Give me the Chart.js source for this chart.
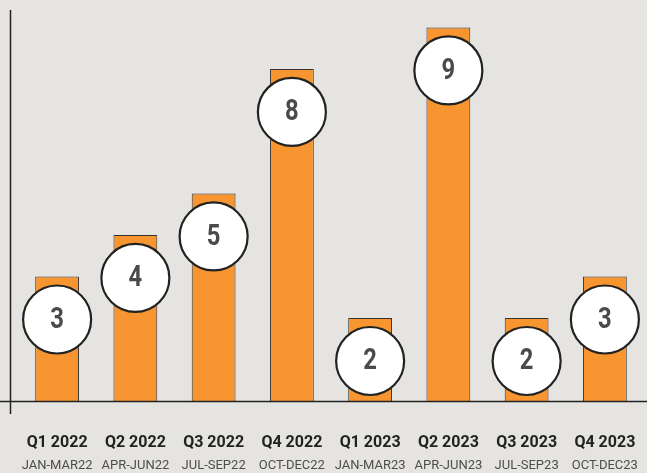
<!DOCTYPE html>
<html>
<head>
<meta charset="utf-8">
<script src="https://cdn.jsdelivr.net/npm/chart.js@4"></script>
<style>
  html, body { margin: 0; padding: 0; background: #e5e4e1; }
  #wrap { width: 647px; height: 473px; position: relative; }
</style>
</head>
<body>
<div id="wrap"><canvas id="chart"></canvas></div>
<script>
// data
const quarters = ['Q1 2022', 'Q2 2022', 'Q3 2022', 'Q4 2022', 'Q1 2023', 'Q2 2023', 'Q3 2023', 'Q4 2023'];
const months   = ['JAN-MAR22', 'APR-JUN22', 'JUL-SEP22', 'OCT-DEC22', 'JAN-MAR23', 'APR-JUN23', 'JUL-SEP23', 'OCT-DEC23'];
const counts   = [3, 4, 5, 8, 2, 9, 2, 3];

// axes, circles, two-line labels
const decor = {
  id: 'decor',
  afterDatasetsDraw(chart) {
    const c = chart.ctx;
    const xs = chart.scales.x, ys = chart.scales.y;
    const base = ys.getPixelForValue(0);

    c.save();
    c.strokeStyle = '#222';
    c.lineWidth = 1.5;
    c.beginPath();
    c.moveTo(0, base + 0.5);
    c.lineTo(chart.width, base + 0.5);
    c.moveTo(10.5, chart.chartArea.top);
    c.lineTo(10.5, base + 13);
    c.stroke();

    counts.forEach((v, i) => {
      const x = xs.getPixelForValue(i);
      const y = ys.getPixelForValue(v) + 43;
      c.beginPath();
      c.arc(x, y, 34, 0, Math.PI * 2);
      c.fillStyle = '#fff';
      c.fill();
      c.lineWidth = 2.2;
      c.strokeStyle = '#222';
      c.stroke();

      // condensed-looking number
      c.save();
      c.translate(x, y + 1);
      c.scale(0.82, 1);
      c.fillStyle = '#4a4a4a';
      c.font = 'bold 29px Roboto';
      c.textAlign = 'center';
      c.textBaseline = 'middle';
      c.fillText(String(v), 0, 0);
      c.restore();

      c.textAlign = 'center';
      c.fillStyle = '#222';
      c.font = 'bold 16px Roboto';
      c.textBaseline = 'alphabetic';
      c.fillText(quarters[i], x, 447);
      c.fillStyle = '#4d4d4d';
      c.font = '13px Roboto';
      c.fillText(months[i], x, 469);
    });
    c.restore();
  }
};

new Chart(document.getElementById('chart'), {
  type: 'bar',
  data: {
    labels: quarters,
    datasets: [{
      data: counts,
      backgroundColor: '#f79630',
      borderColor: '#333',
      borderWidth: 1,
      borderSkipped: 'bottom',
      categoryPercentage: 0.56,
      barPercentage: 1
    }]
  },
  options: {
    responsive: true,
    maintainAspectRatio: false,
    animation: false,
    layout: { padding: { left: 18, right: 3, top: 10, bottom: 72 } },
    scales: {
      x: { display: false },
      y: { display: false, min: 0, max: 9.42 }
    },
    plugins: { legend: { display: false }, tooltip: { enabled: false } }
  },
  plugins: [decor]
});
</script>
</body>
</html>
